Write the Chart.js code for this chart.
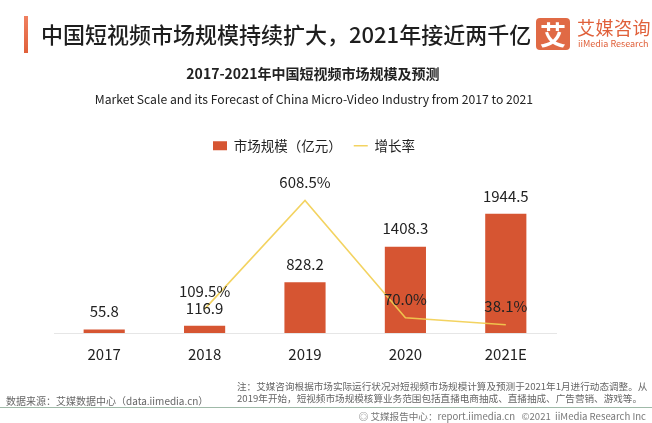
<!DOCTYPE html>
<html>
<head>
<meta charset="utf-8">
<script src="https://cdn.jsdelivr.net/npm/chart.js@4.4.0/dist/chart.umd.min.js"></script>
<style>
  body { margin: 0; width: 652px; height: 423px; background: #fff; overflow: hidden; font-family: "Noto Sans CJK SC", "Noto Sans", sans-serif; }
  #wrap { position: relative; width: 652px; height: 423px; }
  #myChart { position: absolute; left: 0; top: 0; }
  .abs { position: absolute; white-space: nowrap; }
  #bar { left: 24px; top: 16px; width: 4px; height: 37px; background: linear-gradient(#f08060, #e0603a); }
  #title { left: 41px; top: 18px; font-size: 22px; font-weight: 500; color: #1e1e1e; line-height: 30px; }
  #logoBox { left: 536px; top: 18px; width: 34px; height: 32px; background: #e06a45; border-radius: 4px; color: #fff; font-size: 26px; font-weight: 700; line-height: 32px; text-align: center; }
  #logoCn { left: 577px; top: 16px; font-size: 18px; color: #e0603a; line-height: 22px; letter-spacing: 0.5px; }
  #logoEn { left: 578px; top: 38px; font-size: 9px; color: #e0603a; line-height: 12px; }
  #sub1 { left: 0; width: 626px; top: 63px; text-align: center; font-size: 14px; font-weight: 700; color: #222; }
  #sub2 { left: 0; width: 628px; top: 90px; text-align: center; font-size: 12.2px; color: #222; }
  #src { left: 6px; top: 393px; font-size: 10px; color: #666; }
  #note { left: 237px; top: 380px; font-size: 9.6px; color: #666; line-height: 12px; }
  #rule { left: 0; top: 407px; width: 652px; height: 1px; background: #9fbaa8; }
  #foot { right: 6px; top: 409px; font-size: 9.6px; color: #777; }
</style>
</head>
<body>
<div id="wrap">
  <canvas id="myChart" width="652" height="423"></canvas>
  <div class="abs" id="bar"></div>
  <div class="abs" id="title">中国短视频市场规模持续扩大，2021年接近两千亿</div>
  <div class="abs" id="logoBox">艾</div>
  <div class="abs" id="logoCn">艾媒咨询</div>
  <div class="abs" id="logoEn">iiMedia Research</div>
  <div class="abs" id="sub1">2017-2021年中国短视频市场规模及预测</div>
  <div class="abs" id="sub2">Market Scale and its Forecast of China Micro-Video Industry from 2017 to 2021</div>
  <div class="abs" id="note">注：艾媒咨询根据市场实际运行状况对短视频市场规模计算及预测于2021年1月进行动态调整。从<br>2019年开始，短视频市场规模核算业务范围包括直播电商抽成、直播抽成、广告营销、游戏等。</div>
  <div class="abs" id="src">数据来源：艾媒数据中心（data.iimedia.cn）</div>
  <div class="abs" id="rule"></div>
  <div class="abs" id="foot">◎ 艾媒报告中心：report.iimedia.cn &nbsp;&nbsp;©2021 &nbsp;iiMedia Research Inc</div>
</div>
<script>
'use strict';

let years = ['2017', '2018', '2019', '2020', '2021E'];
let marketScale = [55.8, 116.9, 828.2, 1408.3, 1944.5];
let growthRate = [null, 109.5, 608.5, 70.0, 38.1];
let scaleLabel = '市场规模（亿元）';
let growthLabel = '增长率';

let barColor = '#d65532';
let lineColor = 'rgba(242, 206, 80, 0.9)';

// draws the numbers above bars and points
let valueLabels = {
  id: 'valueLabels',
  afterDatasetsDraw(chart) {
    let ctx = chart.ctx;
    ctx.save();
    ctx.font = '15px "Noto Sans CJK SC", "Noto Sans", sans-serif';
    ctx.fillStyle = '#222';
    ctx.textAlign = 'center';
    ctx.textBaseline = 'middle';
    chart.data.datasets.forEach(function (ds, i) {
      let meta = chart.getDatasetMeta(i);
      meta.data.forEach(function (el, j) {
        let v = ds.data[j];
        if (v === null) return;
        let txt = ds.type === 'line' ? v.toFixed(1) + '%' : v.toFixed(1);
        ctx.fillText(txt, el.x, el.y - 18);
      });
    });
    ctx.restore();
  }
};

// nudge the legend a bit to the right, like the original
let legendShift = {
  id: 'legendShift',
  afterLayout(chart) {
    chart.legend.left += 9;
    chart.legend.right += 9;
  }
};

let ctx = document.getElementById('myChart').getContext('2d');
let myChart = new Chart(ctx, {
  type: 'bar',
  data: {
    labels: years,
    datasets: [{
      type: 'line',
      label: growthLabel,
      data: growthRate,
      yAxisID: 'y2',
      borderColor: lineColor,
      backgroundColor: lineColor,
      borderWidth: 1.6,
      pointRadius: 0,
      pointStyle: 'line',
      tension: 0,
      order: 0
    }, {
      label: scaleLabel,
      data: marketScale,
      yAxisID: 'y',
      backgroundColor: barColor,
      barPercentage: 0.41,
      categoryPercentage: 1,
      pointStyle: 'rect',
      order: 1
    }]
  },
  options: {
    responsive: false,
    animation: false,
    events: [],
    layout: { padding: { top: 127, left: 54, right: 96, bottom: 48 } },
    plugins: {
      legend: {
        display: true,
        position: 'top',
        reverse: true,
        labels: {
          usePointStyle: true,
          pointStyleWidth: 14,
          boxHeight: 9,
          padding: 12,
          color: '#222',
          font: { size: 13.5, family: '"Noto Sans CJK SC", "Noto Sans", sans-serif' }
        }
      },
      tooltip: { enabled: false }
    },
    scales: {
      x: {
        grid: { display: false, drawTicks: false },
        border: { display: true, color: '#e6e6e6', width: 1 },
        ticks: {
          padding: 12,
          color: '#222',
          font: { size: 15, family: '"Noto Sans CJK SC", "Noto Sans", sans-serif' }
        }
      },
      y: { display: false, min: 0, max: 2782 },
      y2: { display: false, min: 0, max: 783 }
    }
  },
  plugins: [valueLabels, legendShift]
});
</script>
</body>
</html>
